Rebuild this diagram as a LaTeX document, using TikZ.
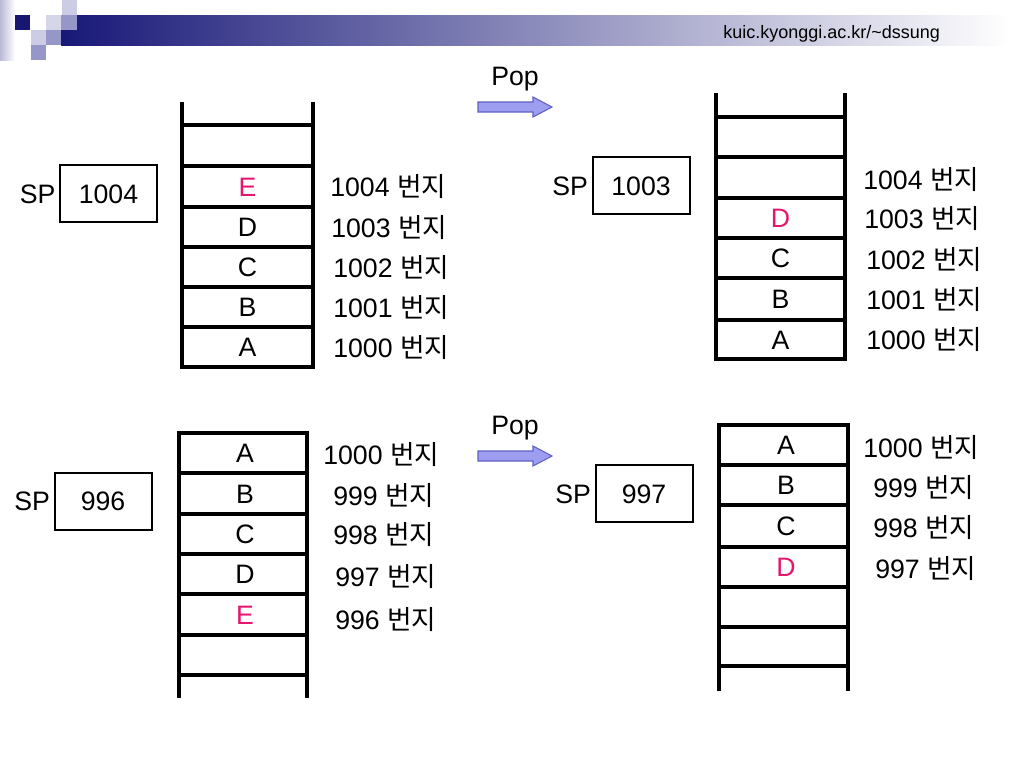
\documentclass[tikz,border=0pt]{standalone}
\usepackage{fontspec}
\setmainfont{Liberation Sans}
\newfontfamily\krfont{Noto Sans CJK KR}
\usetikzlibrary{positioning}
\definecolor{navy}{RGB}{24,24,120}
\definecolor{lightsq}{RGB}{204,204,228}
\definecolor{midsq}{RGB}{150,150,200}
\definecolor{popred}{RGB}{228,22,110}
\definecolor{arrfill}{RGB}{158,158,240}
\definecolor{arrline}{RGB}{96,96,196}

\begin{document}
\begin{tikzpicture}[
    x=0.75pt, y=-0.75pt,
    wall/.style={line width=3pt, line join=miter},
    rung/.style={line width=3pt},
    cell/.style={font=\fontsize{20}{24}\selectfont, text height=14.3pt, text depth=0pt, inner sep=0pt},
    topcell/.style={cell, text=popred},
    addr/.style={cell, anchor=west},
    spbox/.style={cell, draw, line width=1.5pt, minimum width=72.75pt, minimum height=42.75pt},
    poparrow/.style={draw=arrline, fill=arrfill, line width=0.8pt}
]
    \fill[white] (0,0) rectangle (1024,768);
    \useasboundingbox (0,0) rectangle (1024,768);

    % Header
    \shade[left color=navy!30, right color=white] (0,0) rectangle (15,60);
    \shade[left color=navy, right color=white] (61,15) rectangle (1010,45);
    \fill[navy!95!black] (15,15) rectangle (30,30);
    \fill[lightsq] (62,0) rectangle (77,15);
    \fill[lightsq!80] (46,15) rectangle (61,30);
    \fill[midsq] (61,15) rectangle (77,30);
    \fill[lightsq] (31,30) rectangle (46,45);
    \fill[midsq] (46,30) rectangle (61,45);
    \fill[midsq] (31,45) rectangle (46,60);
    \node[font=\fontsize{13.5}{16}\selectfont, anchor=base west, inner sep=0pt] (url) at (723,38) {kuic.kyonggi.ac.kr/\textasciitilde dssung};

    % Pop arrows
    \foreach \y/\n in {107/popA, 456/popB} {
        \draw[poparrow] (478,\y-5) -- (533,\y-5) -- (533,\y-10) -- (552,\y)
            -- (533,\y+10) -- (533,\y+5) -- (478,\y+5) -- cycle;
        \node[cell] (\n) at (515,\y-31) {Pop};
    }

    % Top left stack (before pop)
    \draw[wall] (182,102) -- (182,367) -- (313,367) -- (313,102);
    \foreach \y in {125,166,207,247,287,327}
        \draw[rung] (182,\y) -- (313,\y);
    \node[topcell] (tlE) at (247.5,186.5) {E};
    \node[cell] (tlD) at (247.5,227) {D};
    \node[cell] (tlC) at (247.5,267) {C};
    \node[cell] (tlB) at (247.5,307) {B};
    \node[cell] (tlA) at (247.5,347) {A};
    \node[addr] (tl4) at (330,187) {1004 {\krfont 번지}};
    \node[addr] (tl3) at (331,228) {1003 {\krfont 번지}};
    \node[addr] (tl2) at (333,268) {1002 {\krfont 번지}};
    \node[addr] (tl1) at (333,308) {1001 {\krfont 번지}};
    \node[addr] (tl0) at (333,348) {1000 {\krfont 번지}};
    \node[spbox] (sptl) at (108.5,193.5) {1004};
    \node[cell, left=2.5pt of sptl] (sptlname) {SP};

    % Top right stack (after pop)
    \draw[wall] (716,93) -- (716,359) -- (845,359) -- (845,93);
    \foreach \y in {117,157,198,238,278,320}
        \draw[rung] (716,\y) -- (845,\y);
    \node[topcell] (trD) at (780.5,218) {D};
    \node[cell] (trC) at (780.5,258) {C};
    \node[cell] (trB) at (780.5,299) {B};
    \node[cell] (trA) at (780.5,339.5) {A};
    \node[addr] (tr4) at (863,180) {1004 {\krfont 번지}};
    \node[addr] (tr3) at (864,219) {1003 {\krfont 번지}};
    \node[addr] (tr2) at (866,260) {1002 {\krfont 번지}};
    \node[addr] (tr1) at (866,300) {1001 {\krfont 번지}};
    \node[addr] (tr0) at (866,340) {1000 {\krfont 번지}};
    \node[spbox] (sptr) at (641,185.5) {1003};
    \node[cell, left=2.5pt of sptr] (sptrname) {SP};

    % Bottom left stack (before pop)
    \draw[wall] (179,698) -- (179,433) -- (307,433) -- (307,698);
    \foreach \y in {473,514,554,594,635,675}
        \draw[rung] (179,\y) -- (307,\y);
    \node[cell] (blA) at (245,453) {A};
    \node[cell] (blB) at (245,493.5) {B};
    \node[cell] (blC) at (245,534) {C};
    \node[cell] (blD) at (245,574) {D};
    \node[topcell] (blE) at (245,615) {E};
    \node[addr] (bl0) at (323,455) {1000 {\krfont 번지}};
    \node[addr] (bl9) at (333,496) {999 {\krfont 번지}};
    \node[addr] (bl8) at (333,535) {998 {\krfont 번지}};
    \node[addr] (bl7) at (335,577) {997 {\krfont 번지}};
    \node[addr] (bl6) at (335,620) {996 {\krfont 번지}};
    \node[spbox] (spbl) at (103,501) {996};
    \node[cell, left=2.5pt of spbl] (spblname) {SP};

    % Bottom right stack (after pop)
    \draw[wall] (719,691) -- (719,425) -- (848,425) -- (848,691);
    \foreach \y in {465,505,547,587,627,666}
        \draw[rung] (719,\y) -- (848,\y);
    \node[cell] (brA) at (786,445) {A};
    \node[cell] (brB) at (786,485) {B};
    \node[cell] (brC) at (786,526) {C};
    \node[topcell] (brD) at (786,567) {D};
    \node[addr] (br0) at (863,448) {1000 {\krfont 번지}};
    \node[addr] (br9) at (873,488) {999 {\krfont 번지}};
    \node[addr] (br8) at (873,528) {998 {\krfont 번지}};
    \node[addr] (br7) at (875,569) {997 {\krfont 번지}};
    \node[spbox] (spbr) at (644,493.5) {997};
    \node[cell, left=2.5pt of spbr] (spbrname) {SP};
\end{tikzpicture}
\end{document}
